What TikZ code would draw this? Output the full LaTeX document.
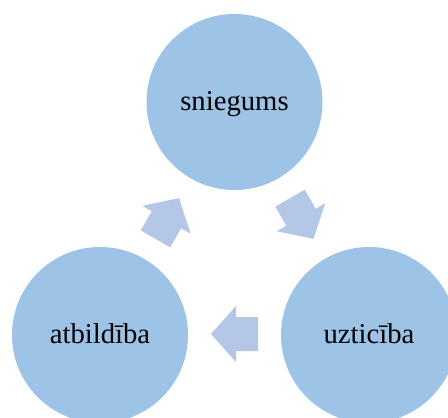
\documentclass[tikz,border=0pt]{standalone}
\usepackage{fontspec}
\setmainfont{Liberation Serif}
\usetikzlibrary{calc}
\definecolor{circfill}{HTML}{9DC3E6}
\definecolor{arrfill}{HTML}{B4C7E7}
\tikzset{
  stage/.style={circle, fill=circfill, minimum size=176pt, inner sep=0pt},
  label/.style={font=\fontsize{28.7}{30}\selectfont, text=black, anchor=base, inner sep=0pt},
  blockarrow/.style={fill=arrfill, draw=none},
}
\begin{document}
\begin{tikzpicture}[x=1pt, y=-1pt]
  \useasboundingbox (0,0) rectangle (448,418);
  \begin{scope}
    \clip (0,0) rectangle (448,418);
    % the three stages of the cycle
    \node[stage] (top) at (234.5,102) {};
    \node[stage] (left) at (100,335) {};
    \node[stage] (right) at (369,335) {};
    \node[label] (ttop) at (234.5,110) {sniegums};
    \node[label] (tleft) at (100,343) {atbildība};
    \node[label] (tright) at (369,343) {uzticība};
    % block arrows between the stages, placed at the midpoints
    \coordinate (mTR) at ($(top)!0.5!(right)$);
    \coordinate (mRL) at ($(right)!0.5!(left)+(0,-1)$);
    \coordinate (mLT) at ($(left)!0.5!(top)$);
    \foreach \c/\ang in {mTR/-60, mRL/180, mLT/60} {
      \fill[blockarrow, shift={(\c)}, rotate=\ang]
        (-23.5,-17) -- (-1.5,-17) -- (-1.5,-28) -- (23.5,0)
        -- (-1.5,28) -- (-1.5,17) -- (-23.5,17) -- cycle;
    }
  \end{scope}
\end{tikzpicture}
\end{document}
